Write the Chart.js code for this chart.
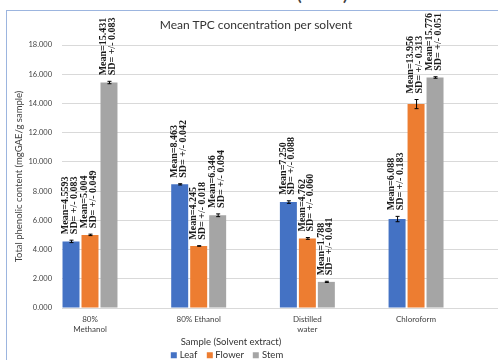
<!DOCTYPE html>
<html>
<head>
<meta charset="utf-8">
<script src="https://cdn.jsdelivr.net/npm/chart.js@4/dist/chart.umd.min.js"></script>
<style>
  html, body { margin: 0; padding: 0; background: #fff; overflow: hidden; }
  #wrap { position: relative; width: 498px; height: 360px; overflow: hidden; font-family: Lato, "Open Sans", sans-serif; }
  #frame { position: absolute; left: 6px; top: 10px; width: 600px; height: 400px;
           border-left: 1px solid #9cb5df; border-top: 1px solid #9cb5df; }
  #chart { position: absolute; left: 0; top: 0; }
  .txt { position: absolute; white-space: nowrap; color: #404040; transform: translate(-50%, -50%); line-height: 1; }
  #heading { left: 210px; top: -8.5px; font-size: 22px; color: #404040; }
  #title { left: 256px; top: 25px; font-size: 12px; color: #333; }
  #xtitle { left: 231px; top: 342px; font-size: 9.5px; color: #333; }
  #legend { left: 227px; top: 355px; font-size: 9.5px; color: #333; display: flex; gap: 9px; }
  #legend span i { display: inline-block; width: 6px; height: 6px; margin-right: 3px; vertical-align: 0; }
</style>
</head>
<body>
<div id="wrap">
  <div id="frame"></div>
  <div class="txt" id="heading">Total Phenolic Content (TPC)</div>
  <canvas id="chart" width="498" height="360"></canvas>
  <div class="txt" id="title">Mean TPC concentration per solvent</div>
  <div class="txt" id="xtitle">Sample (Solvent extract)</div>
  <div class="txt" id="legend"></div>
</div>
<script>
// Solvent extracts (categories) and their two-line axis labels
const categories = ["80% Methanol", "80% Ethanol", "Distilled water", "Chloroform"];
const tickLines = [["80%", "Methanol"], ["80% Ethanol"], ["Distilled", "water"], ["Chloroform"]];

// Plant parts (series)
const seriesNames = ["Leaf", "Flower", "Stem"];
const seriesColors = ["#4472C4", "#ED7D31", "#A5A5A5"];

// Mean TPC (mgGAE/g sample) and standard deviation per solvent
const leafMean   = [4.5593, 8.463, 7.250, 6.088];
const leafSD     = [0.083, 0.042, 0.088, 0.183];
const flowerMean = [5.004, 4.245, 4.762, 13.956];
const flowerSD   = [0.049, 0.018, 0.060, 0.313];
const stemMean   = [15.431, 6.346, 1.788, 15.776];
const stemSD     = [0.083, 0.094, 0.041, 0.051];

// Value axis
const yMin = 0, yMax = 18, yStep = 2;

const means = [leafMean, flowerMean, stemMean];
const sds = [leafSD, flowerSD, stemSD];

// Keep at least three decimals, as printed in the labels
function fmt(v) {
  const s = String(v);
  const dec = (s.split(".")[1] || "").length;
  return dec < 3 ? v.toFixed(3) : s;
}

// Legend
const legend = document.getElementById("legend");
seriesNames.forEach((n, i) => {
  const sp = document.createElement("span");
  sp.innerHTML = '<i style="background:' + seriesColors[i] + '"></i>' + n;
  legend.appendChild(sp);
});

// Error bars plus rotated "Mean / SD" labels above each bar
const errorBars = {
  id: "errorBars",
  afterDatasetsDraw(chart) {
    const ctx = chart.ctx;
    const y = chart.scales.y;
    chart.data.datasets.forEach((ds, di) => {
      const meta = chart.getDatasetMeta(di);
      meta.data.forEach((bar, i) => {
        const m = ds.data[i].y;
        const sd = ds.sd[i];
        const yTop = y.getPixelForValue(m + sd);
        const yBot = y.getPixelForValue(m - sd);
        const x = bar.x;
        ctx.save();
        ctx.strokeStyle = "#000";
        ctx.lineWidth = 1;
        ctx.beginPath();
        ctx.moveTo(x + 0.5, yTop); ctx.lineTo(x + 0.5, yBot);
        ctx.moveTo(x - 1.5, yTop); ctx.lineTo(x + 2.5, yTop);
        ctx.moveTo(x - 1.5, yBot); ctx.lineTo(x + 2.5, yBot);
        ctx.stroke();
        ctx.restore();

        ctx.save();
        ctx.translate(x - 1, yTop - 6);
        ctx.rotate(-Math.PI / 2);
        ctx.font = 'bold 10px "Liberation Serif"';
        ctx.fillStyle = "#1a1a1a";
        ctx.textAlign = "left";
        ctx.textBaseline = "middle";
        ctx.fillText("Mean=" + fmt(m), 0, -4.3);
        ctx.fillText("SD= +/- " + fmt(sd), 0, 4.3);
        ctx.restore();
      });
    });
  }
};

function build() {
  Chart.defaults.font.family = "Lato";
  new Chart(document.getElementById("chart"), {
    type: "bar",
    data: {
      datasets: seriesNames.map((name, si) => ({
        label: name,
        data: means[si].map((v, i) => ({ x: i, y: v })),
        sd: sds[si],
        backgroundColor: seriesColors[si],
        borderWidth: 0
      }))
    },
    options: {
      responsive: false,
      animation: false,
      layout: { padding: { top: 45, left: 0, right: 0, bottom: 0 } },
      plugins: { legend: { display: false }, title: { display: false }, tooltip: { enabled: false } },
      datasets: { bar: { categoryPercentage: 0.524, barPercentage: 0.895 } },
      scales: {
        x: {
          type: "linear",
          min: -0.2576,
          max: 3.754,
          offset: false,
          grid: { display: false, drawTicks: false, offset: false },
          border: { display: true, color: "#d9d9d9" },
          afterBuildTicks: (s) => { s.ticks = categories.map((_, i) => ({ value: i })); },
          ticks: {
            padding: 7,
            color: "#404040",
            font: { size: 8 },
            maxRotation: 0,
            autoSkip: false,
            callback: (v) => tickLines[v]
          },
          afterFit: (s) => { s.height = 52; }
        },
        y: {
          min: yMin,
          max: yMax,
          ticks: {
            stepSize: yStep,
            padding: 10,
            color: "#404040",
            font: { size: 7.5 },
            callback: (v) => v.toFixed(3)
          },
          grid: { color: "#d9d9d9", drawTicks: false },
          border: { display: false },
          title: {
            display: true,
            text: "Total phenolic content (mgGAE/g sample)",
            color: "#404040",
            font: { size: 9.5 },
            padding: { top: 13, bottom: 0 }
          },
          afterFit: (s) => { s.width = 62; }
        }
      }
    },
    plugins: [errorBars]
  });
}

Promise.all([
  document.fonts.load("10px Lato"),
  document.fonts.load('bold 10px "Liberation Serif"')
]).then(build, build);
</script>
</body>
</html>
